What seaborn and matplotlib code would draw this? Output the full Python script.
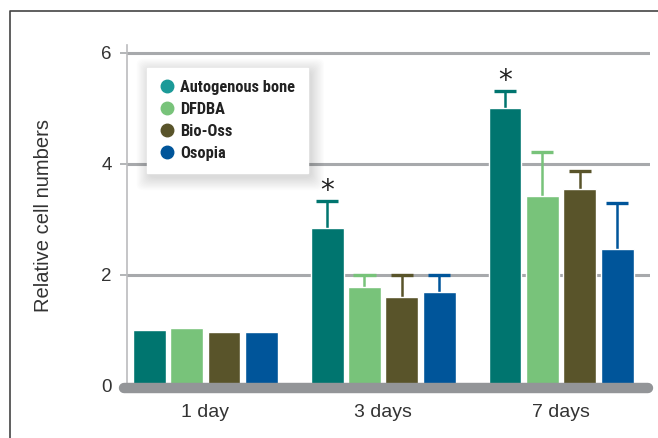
import matplotlib
matplotlib.use("Agg")
import matplotlib.pyplot as plt
from matplotlib.lines import Line2D
from matplotlib.patches import FancyBboxPatch
import numpy as np
import pandas as pd
import seaborn as sns

# Data: relative cell numbers per material and time point
days = ["1 day", "3 days", "7 days"]
materials = ["Autogenous bone", "DFDBA", "Bio-Oss", "Osopia"]
autogenous = [1.00, 2.84, 5.01]
dfdba = [1.05, 1.79, 3.43]
bio_oss = [0.97, 1.61, 3.55]
osopia = [0.98, 1.69, 2.46]
# upper error (SD) per material, per time point
autogenous_err = [0.0, 0.50, 0.31]
dfdba_err = [0.0, 0.21, 0.79]
bio_oss_err = [0.0, 0.39, 0.32]
osopia_err = [0.0, 0.31, 0.84]
significant = {"Autogenous bone": [False, True, True]}

bar_colors = ["#00756F", "#78C37A", "#59542A", "#00559A"]
legend_colors = ["#1B9A98", "#78C37A", "#59542A", "#00559A"]

values = [autogenous, dfdba, bio_oss, osopia]
errors = [autogenous_err, dfdba_err, bio_oss_err, osopia_err]
df = pd.DataFrame({
    "day": np.tile(days, len(materials)),
    "material": np.repeat(materials, len(days)),
    "value": np.concatenate(values),
})

sns.set_theme(style="white")
plt.rcParams["font.family"] = ["Liberation Sans", "DejaVu Sans"]

W, H = 658, 438
fig = plt.figure(figsize=(W / 100, H / 100), dpi=100)
ax = fig.add_axes([127 / W, 52 / H, 523 / W, 341 / H])

sns.barplot(data=df, x="day", y="value", hue="material", order=days,
            hue_order=materials, palette=bar_colors, errorbar=None,
            width=0.84, gap=0.12, saturation=1, ax=ax, legend=False,
            zorder=3)

# Upper-only error bars and significance markers
cap_half = 0.062
for container, color, err, mat in zip(ax.containers, bar_colors, errors, materials):
    for i, bar in enumerate(container):
        if err[i] <= 0:
            continue
        xc = bar.get_x() + bar.get_width() / 2
        h = bar.get_height()
        top = h + err[i]
        ax.vlines(xc, h, top, color=color, lw=1.8, zorder=2)
        ax.hlines(top, xc - cap_half, xc + cap_half, color=color, lw=2.4,
                  zorder=2)
        if significant.get(mat, [False] * 3)[i]:
            ax.text(xc, top + 0.02, "*", ha="center", va="baseline",
                    fontsize=20, color="#222222", family="DejaVu Sans")

ax.set_xlim(-0.44, 2.5)
ax.set_ylim(0, 6.14)
ax.set_yticks([0, 2, 4, 6])
ax.set_yticklabels(["0", "2", "4", "6"])

grid_c = "#A7A9AC"
for yv in [2, 4, 6]:
    ax.axhline(yv, color=grid_c, lw=2.2, zorder=1)
ax.tick_params(axis="y", length=5, width=1.2, color=grid_c, pad=6,
               labelsize=13.5, labelcolor="#333333", left=True)
ax.tick_params(axis="x", length=0, pad=13, labelsize=14,
               labelcolor="#333333")
for side in ["top", "right", "bottom"]:
    ax.spines[side].set_visible(False)
ax.spines["left"].set_color("#BBBBBD")
ax.spines["left"].set_linewidth(1.2)

# Thick rounded baseline
ax.add_line(Line2D([-0.455, 2.49], [-0.045, -0.045], color="#939598",
                   lw=7.5, solid_capstyle="round", clip_on=False, zorder=4))

ax.set_xlabel("")
ax.set_ylabel("Relative cell numbers", fontsize=14.5, color="#333333",
              labelpad=35)

# Legend
handles = [Line2D([], [], marker="o", ls="none", markersize=9,
                  markerfacecolor=c, markeredgecolor=c) for c in legend_colors]
leg = ax.legend(handles, materials, loc="upper left",
                bbox_to_anchor=(0.038, 0.933), borderaxespad=0,
                frameon=True, fancybox=False, framealpha=1,
                edgecolor="white", handletextpad=0.3, handlelength=1.0,
                labelspacing=0.42, borderpad=0.75,
                prop={"family": ["Roboto Condensed", "Roboto", "DejaVu Sans"],
                      "weight": "bold", "size": 11.8})
for t in leg.get_texts():
    t.set_color("#222222")
leg.set_zorder(6)

# Soft drop shadow behind the legend box
fig.canvas.draw()
bb = leg.get_window_extent().transformed(fig.transFigure.inverted())
for k in range(12):
    grow = (k + 1) * 1.1
    shadow = FancyBboxPatch(
        (bb.x0 + 3 / W - grow / W, bb.y0 - 4 / H - grow / H),
        bb.width + 2 * grow / W, bb.height + 2 * grow / H,
        boxstyle="round,pad=0,rounding_size=0.012",
        transform=fig.transFigure, facecolor="#000000", edgecolor="none",
        alpha=0.011, zorder=5.5, clip_on=False)
    ax.add_artist(shadow)

# Panel frame (top and left edge)
fig.add_artist(Line2D([10 / W, 10 / W, 1.0], [0.0, 427 / H, 427 / H],
                      transform=fig.transFigure, color="#444444", lw=1.2))

fig.savefig("out.png", dpi=100)
